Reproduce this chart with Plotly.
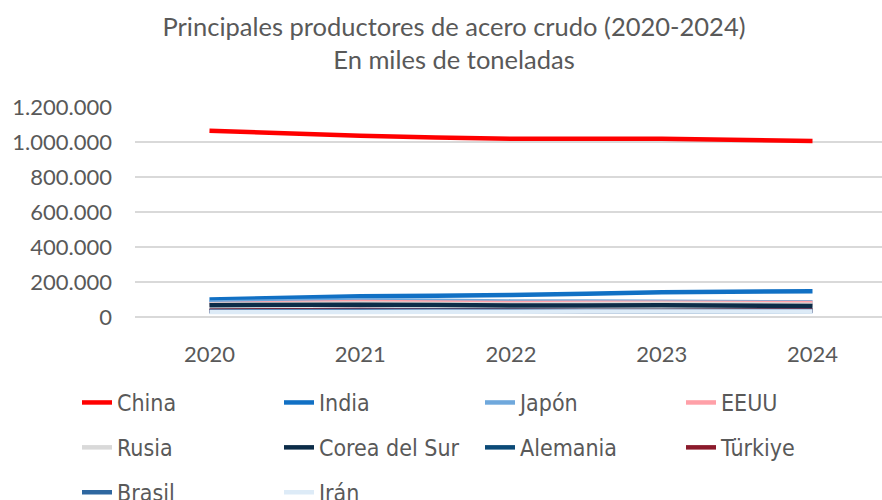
import plotly.graph_objects as go

years = ["2020", "2021", "2022", "2023", "2024"]
china = [1064767, 1035243, 1018000, 1019080, 1005090]
india = [100256, 118201, 125320, 140800, 147600]
japon = [83186, 96336, 89227, 86996, 84009]
eeuu = [72732, 85791, 80535, 81400, 79500]
rusia = [71621, 77024, 71500, 76000, 70700]
corea = [67079, 70418, 65846, 66700, 63500]
alemania = [35680, 40241, 36850, 35400, 37200]
turkiye = [35762, 40360, 35134, 33700, 36900]
brasil = [31415, 36069, 34095, 31900, 33700]
iran = [29000, 28500, 30600, 31100, 31000]

series = [
    ("China", china, "#FF0000", "legend"),
    ("India", india, "#1170C4", "legend2"),
    ("Japón", japon, "#6FA8DC", "legend3"),
    ("EEUU", eeuu, "#FFA0A8", "legend4"),
    ("Rusia", rusia, "#D9D9D9", "legend"),
    ("Corea del Sur", corea, "#0C2C48", "legend2"),
    ("Alemania", alemania, "#0B4A77", "legend3"),
    ("Türkiye", turkiye, "#8B1A2B", "legend4"),
    ("Brasil", brasil, "#2E67A0", "legend"),
    ("Irán", iran, "#DDEBF7", "legend2"),
]

fig = go.Figure()
for name, vals, col, lg in series:
    fig.add_trace(go.Scatter(x=years, y=vals, name=name, mode="lines",
                             legend=lg, legendgroup=name,
                             line=dict(color=col, width=4.5, shape="spline", smoothing=0.3)))

TXT = "#595959"
legend_font = dict(family="DejaVu Sans Condensed", size=23, color=TXT)


def make_legend(xpx):
    return dict(orientation="v", xref="container", yref="container",
                x=xpx / 882, xanchor="left", y=1 - 381 / 500, yanchor="top",
                tracegroupgap=12, font=legend_font, itemwidth=30,
                bgcolor="rgba(0,0,0,0)")


fig.update_layout(
    width=882, height=500,
    paper_bgcolor="white", plot_bgcolor="white",
    margin=dict(l=135, r=0, t=107, b=183, autoexpand=False),
    separators=",.",
    title=dict(text="Principales productores de acero crudo (2020-2024)<br>En miles de toneladas",
               x=454 / 882, xanchor="center", xref="container",
               y=1 - 36 / 500, yanchor="top", yref="container",
               font=dict(family="Lato", size=25.5, color=TXT)),
    xaxis=dict(type="category", range=[-0.494, 4.461], showgrid=False, showline=False,
               ticks="", ticklabelstandoff=22,
               tickfont=dict(family="Lato", size=22, color=TXT)),
    yaxis=dict(range=[0, 1200000], dtick=200000, tickformat=",d",
               showgrid=True, gridcolor="#D9D9D9", gridwidth=1.5, zeroline=True,
               zerolinecolor="#D9D9D9", zerolinewidth=1.5, ticks="",
               ticklabelstandoff=22,
               tickfont=dict(family="Lato", size=22, color=TXT)),
    showlegend=True,
    legend=make_legend(77),
    legend2=make_legend(279),
    legend3=make_legend(480),
    legend4=make_legend(681),
)
fig.write_html("out.html", config={"displayModeBar": False},
               post_script="document.body.style.margin='0px';")
